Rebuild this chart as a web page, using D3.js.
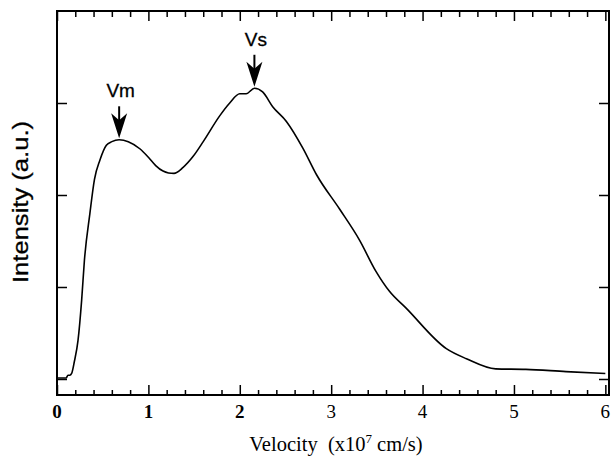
<!DOCTYPE html>
<html>
<head>
<meta charset="utf-8">
<script src="https://cdn.jsdelivr.net/npm/d3@7"></script>
<style>
  html, body { margin: 0; padding: 0; background: #fff; }
  svg { display: block; }
</style>
</head>
<body>
<svg id="chart" width="613" height="456"></svg>
<script>
// ---- data ----
const velocity = [0.00, 0.05, 0.10, 0.12, 0.14, 0.16, 0.19, 0.23, 0.27, 0.30, 0.36, 0.41, 0.47, 0.54, 0.60, 0.68, 0.78, 0.91, 1.00, 1.08, 1.16, 1.22, 1.28, 1.38, 1.49, 1.60, 1.78, 1.89, 2.00, 2.07, 2.16, 2.25, 2.36, 2.51, 2.69, 2.84, 3.09, 3.31, 3.49, 3.64, 3.82, 4.26, 4.48, 4.80, 5.13, 5.57, 6.00];
const intensity = [0.01, 0.01, 0.01, 0.04, 0.04, 0.06, 0.19, 0.42, 0.86, 1.29, 1.80, 2.17, 2.38, 2.54, 2.58, 2.60, 2.58, 2.50, 2.41, 2.32, 2.26, 2.24, 2.235, 2.30, 2.42, 2.58, 2.86, 3.00, 3.10, 3.10, 3.16, 3.12, 2.96, 2.80, 2.51, 2.22, 1.85, 1.51, 1.17, 0.95, 0.77, 0.33, 0.22, 0.11, 0.105, 0.08, 0.06];
const xTickValues = [0, 1, 2, 3, 4, 5, 6];
const xTickLabels = ["0", "1", "2", "3", "4", "5", "6"];
const yTickValues = [0, 1, 2, 3];
const peakLabels = ["Vm", "Vs"];
const peakVelocity = [0.68, 2.16];
const peakIntensity = [2.60, 3.16];

// ---- layout ----
const svg = d3.select("#chart");
const pL = 57, pR = 609, pT = 11, pB = 395;
const x = d3.scaleLinear().domain([0, 6.04]).range([pL, pR]);
const y = d3.scaleLinear().domain([-0.174, 4]).range([pB, pT]);

const minorX = d3.range(0, 6.001, 0.2).map(v => +v.toFixed(2)).filter(v => Math.abs(v - Math.round(v)) > 1e-6);

// bottom axis (ticks inward)
const gB = svg.append("g").attr("transform", `translate(0,${pB})`);
gB.call(d3.axisBottom(x).tickValues(minorX).tickSize(-5).tickFormat(""));
gB.append("g").call(d3.axisBottom(x).tickValues(xTickValues).tickSize(-10).tickFormat(""));
// top axis
const gT = svg.append("g").attr("transform", `translate(0,${pT})`);
gT.call(d3.axisTop(x).tickValues(minorX).tickSize(-6).tickFormat(""));
gT.append("g").call(d3.axisTop(x).tickValues(xTickValues).tickSize(-10).tickFormat(""));
// left / right axes
svg.append("g").attr("transform", `translate(${pL},0)`)
  .call(d3.axisLeft(y).tickValues(yTickValues).tickSize(-10).tickFormat(""));
svg.append("g").attr("transform", `translate(${pR},0)`)
  .call(d3.axisRight(y).tickValues(yTickValues).tickSize(-10).tickFormat(""));

svg.selectAll(".domain").remove();
svg.selectAll(".tick line").attr("stroke", "#000").attr("stroke-width", 1.5);

// frame
svg.append("rect")
  .attr("x", pL).attr("y", pT)
  .attr("width", pR - pL).attr("height", pB - pT)
  .attr("fill", "none").attr("stroke", "#000").attr("stroke-width", 2);

// x tick labels
svg.append("g").selectAll("text")
  .data(xTickValues)
  .join("text")
  .attr("x", d => x(d))
  .attr("y", 418)
  .attr("text-anchor", "middle")
  .attr("font-family", "'Liberation Serif', 'DejaVu Serif', serif")
  .attr("font-size", 19)
  .attr("font-weight", (d, i) => i < 3 ? "bold" : "normal")
  .attr("fill", "#000")
  .text((d, i) => xTickLabels[i]);

// x axis label
const xl = svg.append("text")
  .attr("x", 336).attr("y", 451)
  .attr("text-anchor", "middle")
  .attr("font-family", "'Liberation Serif', 'DejaVu Serif', serif")
  .attr("font-size", 20.5)
  .attr("fill", "#000");
xl.append("tspan").text("Velocity\u00a0\u00a0(x10");
xl.append("tspan").attr("font-size", 13).attr("dy", -8).text("7");
xl.append("tspan").attr("dy", 8).text(" cm/s)");

// y axis label
svg.append("text")
  .attr("transform", "translate(28,202) rotate(-90)")
  .attr("text-anchor", "middle")
  .attr("font-family", "'Liberation Sans', Arial, sans-serif")
  .attr("font-size", 22)
  .attr("textLength", 162)
  .attr("lengthAdjust", "spacingAndGlyphs")
  .attr("fill", "#000")
  .attr("stroke", "#000")
  .attr("stroke-width", 0.3)
  .text("Intensity (a.u.)");

// curve
const pts = velocity.map((v, i) => [v, intensity[i]]);
svg.append("path")
  .datum(pts)
  .attr("fill", "none")
  .attr("stroke", "#000")
  .attr("stroke-width", 1.6)
  .attr("stroke-linejoin", "round")
  .attr("d", d3.line().x(d => x(d[0])).y(d => y(d[1])).curve(d3.curveMonotoneX));

// peak arrows
peakLabels.forEach((lab, i) => {
  const ax = x(peakVelocity[i]);
  const tip = y(peakIntensity[i]) - 1.5;
  const g = svg.append("g");
  g.append("line")
    .attr("x1", ax).attr("x2", ax)
    .attr("y1", tip - 32).attr("y2", tip - 10)
    .attr("stroke", "#000").attr("stroke-width", 2);
  g.append("path")
    .attr("d", `M${ax},${tip} L${ax - 8},${tip - 25} L${ax},${tip - 18} L${ax + 8},${tip - 25} Z`)
    .attr("fill", "#000");
  g.append("text")
    .attr("x", ax + 1.5).attr("y", tip - 41)
    .attr("text-anchor", "middle")
    .attr("font-family", "'Liberation Sans', Arial, sans-serif")
    .attr("font-size", 19)
    .attr("fill", "#000")
    .attr("stroke", "#000")
    .attr("stroke-width", 0.3)
    .text(lab);
});
</script>
</body>
</html>
